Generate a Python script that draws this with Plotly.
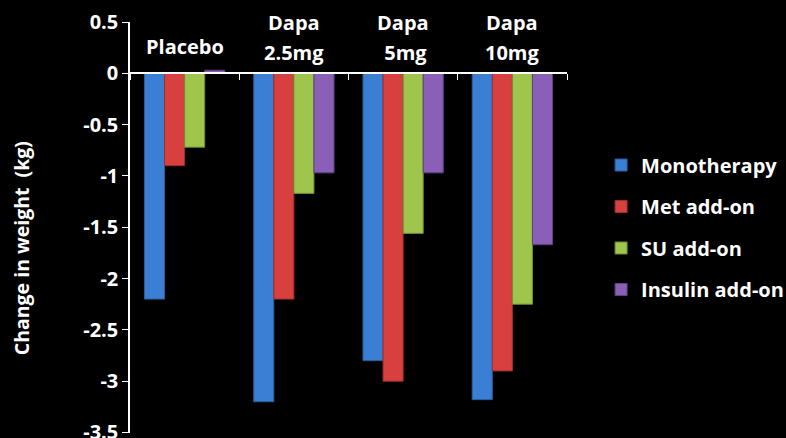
import plotly.graph_objects as go

# Change in body weight (kg) by treatment arm and background therapy
categories = ["Placebo", "Dapa 2.5mg", "Dapa 5mg", "Dapa 10mg"]
label_top = ["", "Dapa", "Dapa", "Dapa"]
label_bottom = ["Placebo", "2.5mg", "\u00a05mg", "10mg"]

series_names = ["Monotherapy", "Met add-on", "SU add-on", "Insulin add-on"]
monotherapy = [-2.2, -3.2, -2.8, -3.18]
met_addon = [-0.9, -2.2, -3.0, -2.9]
su_addon = [-0.72, -1.17, -1.56, -2.25]
insulin_addon = [0.03, -0.97, -0.97, -1.67]

series_values = [monotherapy, met_addon, su_addon, insulin_addon]
fill_colors = ["#3b7fd4", "#d8403f", "#9fc54d", "#8a5fb8"]
edge_colors = ["#2a5d9c", "#9e2e2d", "#6f8c33", "#5f4182"]

y_ticks = [0.5, 0, -0.5, -1, -1.5, -2, -2.5, -3, -3.5]
y_tick_text = ["0.5", "0", "-0.5", "-1", "-1.5", "-2", "-2.5", "-3", "-3.5"]
y_title = "Change in weight  (kg)"

FONT = "Open Sans"
FS = 20
Y_MIN, Y_MAX = -3.5, 0.5

fig = go.Figure()
for name, vals, fc, ec in zip(series_names, series_values, fill_colors, edge_colors):
    fig.add_trace(go.Bar(
        x=categories, y=vals, name=name, legendgroup=name,
        marker=dict(color=fc, line=dict(color=ec, width=1)),
    ))

label_font = dict(family=FONT, size=FS, color="white", weight="bold")

# Group labels drawn above the zero line
for cat, top, bottom in zip(categories, label_top, label_bottom):
    if top:
        fig.add_annotation(x=cat, y=0.496, xref="x", yref="y", text=top,
                           showarrow=False, xanchor="center", yanchor="middle",
                           font=label_font)
        fig.add_annotation(x=cat, y=0.204, xref="x", yref="y", text=bottom,
                           showarrow=False, xanchor="center", yanchor="middle",
                           font=label_font)
    else:
        fig.add_annotation(x=cat, y=0.262, xref="x", yref="y", text=bottom,
                           showarrow=False, xanchor="center", yanchor="middle",
                           font=label_font)

# Rotated value-axis title, sitting a little below the plot's mid-height
fig.add_annotation(x=-0.249, y=0.45, xref="paper", yref="paper", text=y_title,
                   textangle=-90, showarrow=False, xanchor="center", yanchor="middle",
                   font=dict(family=FONT, size=19.5, color="white", weight="bold"))

zero_pos = (0 - Y_MIN) / (Y_MAX - Y_MIN)

fig.update_layout(
    width=786, height=438,
    margin=dict(l=130, r=219, t=22, b=5, autoexpand=False),
    paper_bgcolor="black", plot_bgcolor="black",
    barmode="group", bargap=0.265, bargroupgap=0,
    font=dict(family=FONT, size=FS, color="white"),
    showlegend=True,
    legend=dict(
        x=1.078, xanchor="left", y=0.5, yanchor="middle",
        font=label_font,
        tracegroupgap=12.5, bgcolor="rgba(0,0,0,0)",
    ),
    xaxis=dict(
        type="category", showticklabels=False, showgrid=False, zeroline=False,
        showline=True, linecolor="white", linewidth=1.5,
        anchor="free", position=zero_pos,
        ticks="outside", tickson="boundaries", ticklen=6, tickcolor="white",
    ),
    yaxis=dict(
        range=[Y_MIN - 0.005, Y_MAX], tickvals=y_ticks, ticktext=y_tick_text,
        showgrid=False, zeroline=False,
        showline=True, linecolor="white", linewidth=1.5,
        ticks="outside", ticklen=6, tickcolor="white",
        tickfont=label_font, ticklabeloverflow="allow",
    ),
)

fig.write_html("out.html")
